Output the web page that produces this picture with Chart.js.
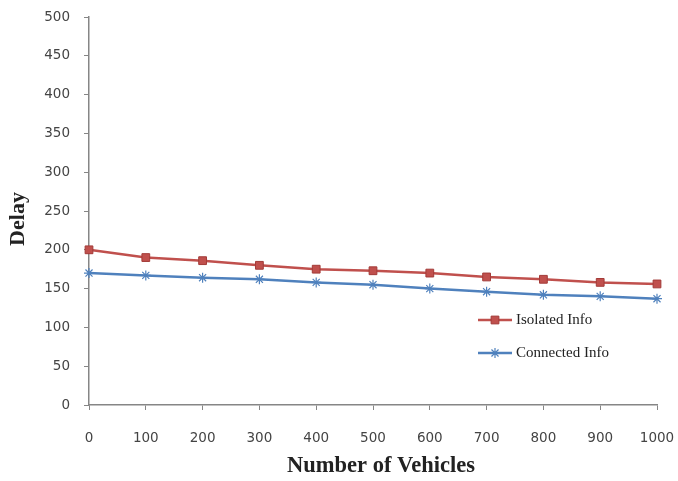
<!DOCTYPE html>
<html>
<head>
<meta charset="utf-8">
<script src="https://cdn.jsdelivr.net/npm/chart.js@4"></script>
<style>
  html, body { margin: 0; padding: 0; background: #fff; }
  #wrap { width: 678px; height: 481px; }
</style>
</head>
<body>
<div id="wrap"><canvas id="delayChart" width="678" height="481"></canvas></div>
<script>
  const vehicles = ['0', '100', '200', '300', '400', '500', '600', '700', '800', '900', '1000'];
  const isolatedInfo = [200, 190, 186, 180, 175, 173, 170, 165, 162, 158, 156];
  const connectedInfo = [170, 167, 164, 162, 158, 155, 150, 146, 142, 140, 137];
  const yTicks = [0, 50, 100, 150, 200, 250, 300, 350, 400, 450, 500];
  const xTitle = 'Number of Vehicles';
  const yTitle = 'Delay';

  const axisColor = '#868686';
  const tickFont = { family: 'DejaVu Sans', size: 13.5 };

  // legend sits inside the plot, drawn by hand; axis titles drawn here too (off-centre in the original)
  const innerLegend = {
    id: 'innerLegend',
    afterDraw: chart => {
      const c = chart.ctx;
      const rows = [320, 353];
      chart.data.datasets.forEach((ds, i) => {
        const y = rows[i];
        c.save();
        c.strokeStyle = ds.borderColor;
        c.lineWidth = 2.5;
        c.beginPath();
        c.moveTo(478, y);
        c.lineTo(512, y);
        c.stroke();
        c.fillStyle = ds.pointBackgroundColor;
        c.strokeStyle = ds.pointBorderColor;
        c.lineWidth = ds.pointBorderWidth || 1;
        Chart.helpers.drawPoint(c, {
          pointStyle: ds.pointStyle,
          radius: ds.pointRadius,
          borderWidth: ds.pointBorderWidth || 1
        }, 495, y);
        c.fillStyle = '#222';
        c.font = '15px "Liberation Serif"';
        c.textBaseline = 'middle';
        c.fillText(ds.label, 516, y);
        c.restore();
      });

      c.save();
      c.fillStyle = '#222';
      c.font = 'bold 22.5px "Liberation Serif"';
      c.textAlign = 'center';
      c.textBaseline = 'middle';
      c.fillText(xTitle, 381, 466);
      c.translate(18, 219);
      c.rotate(-Math.PI / 2);
      c.font = 'bold 22px "Liberation Serif"';
      c.fillText(yTitle, 0, 0);
      c.restore();
    }
  };

  const config = {
    type: 'line',
    data: {
      labels: vehicles,
      datasets: [
        {
          label: 'Isolated Info',
          data: isolatedInfo,
          borderColor: '#C0504D',
          borderWidth: 2.5,
          pointStyle: 'rect',
          pointRadius: 5.5,
          pointBackgroundColor: '#C0504D',
          pointBorderColor: '#A33B38',
          pointBorderWidth: 1
        },
        {
          label: 'Connected Info',
          data: connectedInfo,
          borderColor: '#4F81BD',
          borderWidth: 2.5,
          pointStyle: 'star',
          pointRadius: 5,
          pointBackgroundColor: '#4F81BD',
          pointBorderColor: '#4F81BD',
          pointBorderWidth: 1.2
        }
      ]
    },
    options: {
      responsive: false,
      animation: false,
      layout: {
        padding: { left: 0, right: 21, top: 17, bottom: 0 }
      },
      plugins: {
        legend: { display: false },
        tooltip: { enabled: false }
      },
      scales: {
        x: {
          offset: false,
          grid: {
            drawOnChartArea: false,
            drawTicks: true,
            tickLength: 5,
            color: axisColor
          },
          border: { color: axisColor, width: 1.5 },
          ticks: {
            color: '#444',
            font: tickFont,
            padding: 20,
            maxRotation: 0,
            autoSkip: false
          },
          title: { display: false },
          afterFit: scale => {
            scale.height = 76;
            scale.paddingLeft = 0;
            scale.paddingRight = 0;
          }
        },
        y: {
          min: 0,
          max: 500,
          afterBuildTicks: scale => {
            scale.ticks = yTicks.map(v => ({ value: v }));
          },
          grid: {
            drawOnChartArea: false,
            drawTicks: true,
            tickLength: 5,
            color: axisColor
          },
          border: { color: axisColor, width: 1.5 },
          ticks: {
            color: '#444',
            font: tickFont,
            padding: 14
          },
          title: { display: false },
          afterFit: scale => {
            scale.width = 89;
            scale.paddingTop = 0;
            scale.paddingBottom = 0;
          }
        }
      }
    },
    plugins: [innerLegend]
  };

  const delayChart = new Chart(document.getElementById('delayChart').getContext('2d'), config);
</script>
</body>
</html>
